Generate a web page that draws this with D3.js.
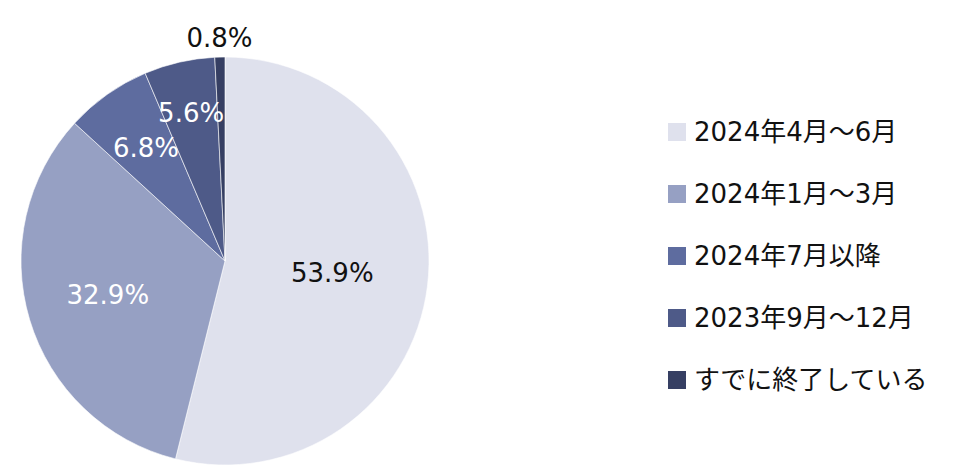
<!DOCTYPE html>
<html>
<head>
<meta charset="utf-8">
<script src="https://cdn.jsdelivr.net/npm/d3@7"></script>
<style>
  body { margin: 0; background: #fff; }
  text { font-family: "DejaVu Sans", "Noto Sans CJK JP", sans-serif; }
</style>
</head>
<body>
<div id="chart"></div>
<script>
var categories = ["2024年4月～6月", "2024年1月～3月", "2024年7月以降", "2023年9月～12月", "すでに終了している"];
var shares = [53.9, 32.9, 6.8, 5.6, 0.8];
var colors = ["#dfe1ed", "#96a0c3", "#5e6c9f", "#4e5a88", "#363f63"];
var labelColors = ["#111", "#fff", "#fff", "#fff", "#111"];

var width = 954, height = 473;
var cx = 225, cy = 261, radius = 204;
// how far out each label sits, as a share of the radius
var labelPos = [0.53, 0.6, 0.67, 0.74, 1.09];

var data = categories.map(function (c, i) {
  return { name: c, value: shares[i], color: colors[i], labelColor: labelColors[i], lr: labelPos[i] };
});

var svg = d3.select("#chart").append("svg")
  .attr("width", width)
  .attr("height", height);

var pie = d3.pie().sort(null).value(function (d) { return d.value; });
var arc = d3.arc().innerRadius(0).outerRadius(radius);

var g = svg.append("g").attr("transform", "translate(" + cx + "," + cy + ")");

var arcs = pie(data);

g.selectAll("path")
  .data(arcs)
  .enter().append("path")
  .attr("d", arc)
  .attr("fill", function (d) { return d.data.color; })
  .attr("stroke", "#fff")
  .attr("stroke-width", 0.6);

g.selectAll(".lbl")
  .data(arcs)
  .enter().append("text")
  .attr("class", "lbl")
  .attr("transform", function (d) {
    var r = radius * d.data.lr;
    var a = (d.startAngle + d.endAngle) / 2;
    return "translate(" + (Math.sin(a) * r) + "," + (-Math.cos(a) * r) + ")";
  })
  .attr("text-anchor", "middle")
  .attr("dy", "0.3em")
  .attr("font-size", 26)
  .attr("fill", function (d) { return d.data.labelColor; })
  .text(function (d) { return d.data.value.toFixed(1) + "%"; });

// legend
var legendY = d3.scalePoint().domain(categories).range([132, 380]);

var legend = svg.append("g").selectAll("g")
  .data(data)
  .enter().append("g")
  .attr("transform", function (d) { return "translate(668," + legendY(d.name) + ")"; });

legend.append("rect")
  .attr("x", 0).attr("y", -9)
  .attr("width", 18).attr("height", 18)
  .attr("fill", function (d) { return d.color; });

legend.append("text")
  .attr("x", 26)
  .attr("dy", "0.36em")
  .attr("font-size", 26)
  .attr("fill", "#111")
  .text(function (d) { return d.name; });
</script>
</body>
</html>
